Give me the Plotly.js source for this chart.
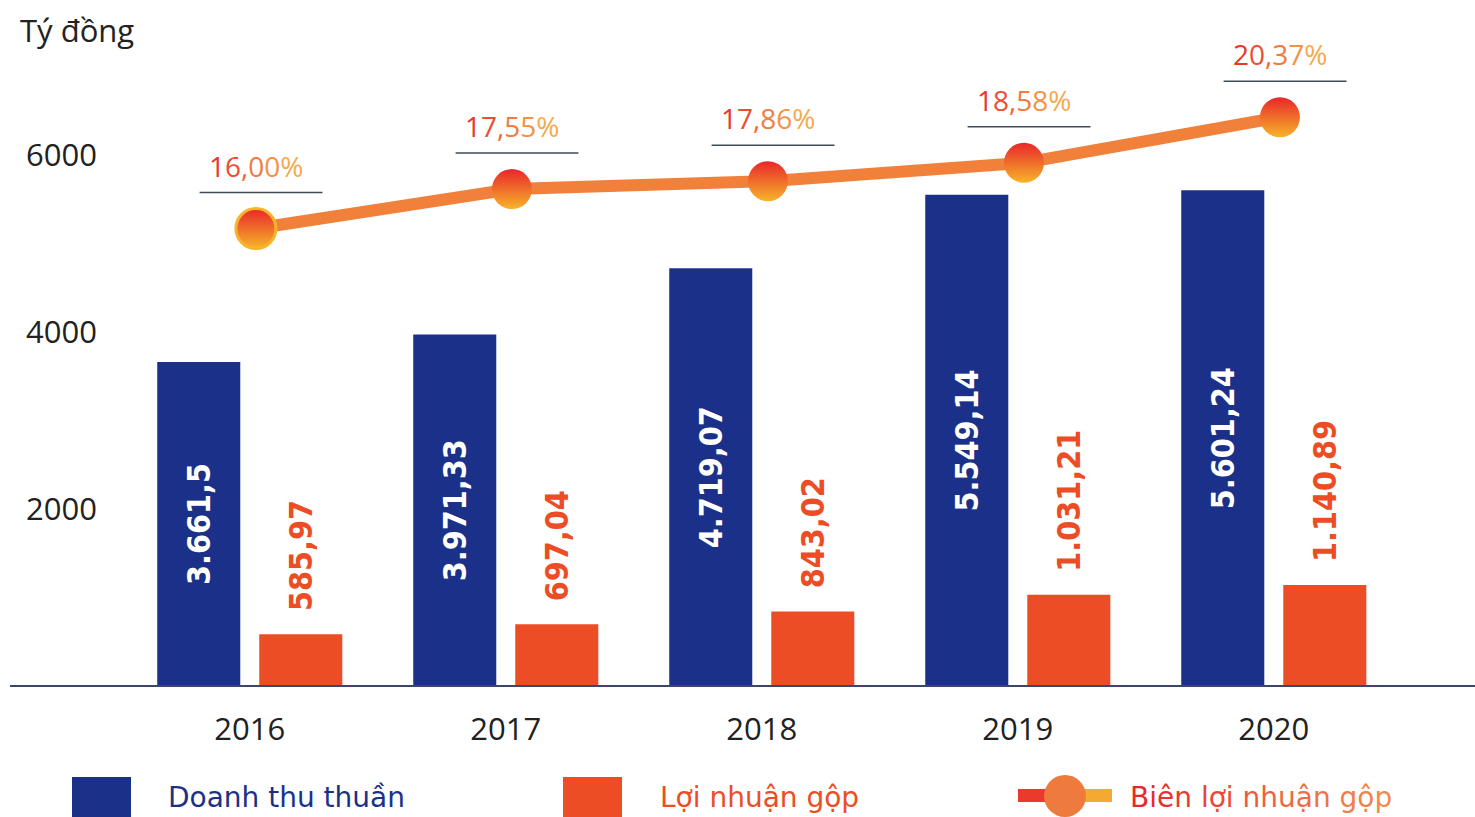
<!DOCTYPE html>
<html>
<head>
<meta charset="utf-8">
<script src="https://cdn.plot.ly/plotly-3.0.1.min.js"></script>
<style>html,body{margin:0;padding:0;background:#fff;}#chart{width:1475px;height:817px;}</style>
</head>
<body>
<div id="chart"></div>
<script>
// ---- data ----
const years = ['2016', '2017', '2018', '2019', '2020'];
const revenue = [3661.5, 3971.33, 4719.07, 5549.14, 5601.24];      // Doanh thu thuần
const grossProfit = [585.97, 697.04, 843.02, 1031.21, 1140.89];   // Lợi nhuận gộp
const grossMargin = [16.00, 17.55, 17.86, 18.58, 20.37];          // Biên lợi nhuận gộp (%)
const yTickVals = [2000, 4000, 6000];
const seriesNames = ['Doanh thu thuần', 'Lợi nhuận gộp', 'Biên lợi nhuận gộp'];
const yUnit = 'Tý đồng';

// ---- helpers ----
function fmtVN(v) {
  const s = String(v);
  const parts = s.split('.');
  const intPart = parts[0].replace(/\B(?=(\d{3})+(?!\d))/g, '.');
  return parts.length > 1 ? intPart + ',' + parts[1] : intPart;
}
function fmtPct(v) { return v.toFixed(2).replace('.', ',') + '%'; }
function hex2rgb(h) { return [1, 3, 5].map(i => parseInt(h.substr(i, 2), 16)); }
function gradText(str, c1, c2) {
  const a = hex2rgb(c1), b = hex2rgb(c2);
  const chars = Array.from(str);
  const n = Math.max(chars.length - 1, 1);
  return chars.map((ch, i) => {
    const t = i / n;
    const c = a.map((v, k) => Math.round(v + (b[k] - v) * t));
    return '<span style="color:rgb(' + c.join(',') + ')">' + ch + '</span>';
  }).join('');
}
// pixel -> paper helpers (plot area: x 100..1475, y 20..686)
const L = 100, W = 1375, B = 686, H = 666;
const PX = x => (x - L) / W;
const PY = y => (B - y) / H;

const BLUE = '#1b3189';
const ORANGE = '#ec4d24';
const GAP = '\u00a0\u00a0';

const traces = [
  {
    type: 'bar', name: seriesNames[0], x: years, y: revenue,
    marker: {color: BLUE},
    text: revenue.map(fmtVN), textposition: 'inside', insidetextanchor: 'middle',
    textangle: -90, constraintext: 'none',
    insidetextfont: {family: 'DejaVu Sans Condensed, DejaVu Sans', size: 32, color: '#ffffff', weight: 'bold'},
    hoverinfo: 'x+y', showlegend: false
  },
  {
    type: 'bar', name: seriesNames[1], x: years, y: grossProfit,
    marker: {color: ORANGE},
    text: grossProfit.map(v => GAP + fmtVN(v)), textposition: 'outside',
    textangle: -90, constraintext: 'none', cliponaxis: false,
    outsidetextfont: {family: 'DejaVu Sans Condensed, DejaVu Sans', size: 32, color: ORANGE, weight: 'bold'},
    hoverinfo: 'x+y', showlegend: false
  },
  {
    type: 'scatter', mode: 'lines+markers', name: seriesNames[2],
    x: years, y: grossMargin, xaxis: 'x2', yaxis: 'y2', cliponaxis: false,
    line: {color: '#f0803a', width: 12},
    marker: {size: 40, color: '#e8262b',
      gradient: {type: 'vertical', color: '#f7b42a'},
      line: {color: '#f7b42a', width: [3, 0, 0, 0, 0]}},
    showlegend: false
  }
];

const shapes = [];
const annotations = [];

// baseline
shapes.push({type: 'line', xref: 'paper', yref: 'paper', x0: PX(10), x1: PX(1475), y0: 0, y1: 0,
  line: {color: '#3b4767', width: 2}, layer: 'above'});

// percent labels with underline
grossMargin.forEach((v, i) => {
  shapes.push({type: 'line', xref: 'x2', yref: 'y2', ysizemode: 'pixel', yanchor: v,
    x0: i - 0.22, x1: i + 0.26, y0: 36, y1: 36, line: {color: '#3f4b57', width: 1.5}});
  annotations.push({xref: 'x2', yref: 'y2', x: i, y: v, yshift: 63, showarrow: false,
    text: gradText(fmtPct(v), '#e9382b', '#f5a84c'),
    font: {family: 'Open Sans', size: 28}});
});

// legend (manual)
shapes.push({type: 'rect', xref: 'paper', yref: 'paper', x0: PX(72), x1: PX(131), y0: PY(777), y1: PY(817),
  fillcolor: BLUE, line: {width: 0}});
shapes.push({type: 'rect', xref: 'paper', yref: 'paper', x0: PX(563), x1: PX(622), y0: PY(777), y1: PY(817),
  fillcolor: ORANGE, line: {width: 0}});
shapes.push({type: 'rect', xref: 'paper', yref: 'paper', x0: PX(1018), x1: PX(1060), y0: PY(789), y1: PY(802),
  fillcolor: '#ea3a2b', line: {width: 0}});
shapes.push({type: 'rect', xref: 'paper', yref: 'paper', x0: PX(1070), x1: PX(1112), y0: PY(789), y1: PY(802),
  fillcolor: '#f4aa30', line: {width: 0}});
shapes.push({type: 'circle', xref: 'paper', yref: 'paper', x0: PX(1044), x1: PX(1086), y0: PY(775), y1: PY(817),
  fillcolor: '#ef7a3e', line: {width: 0}});

annotations.push({xref: 'paper', yref: 'paper', x: PX(166), y: PY(797), xanchor: 'left', yanchor: 'middle',
  showarrow: false, text: seriesNames[0], font: {family: 'DejaVu Sans', size: 28, color: BLUE}});
annotations.push({xref: 'paper', yref: 'paper', x: PX(658), y: PY(797), xanchor: 'left', yanchor: 'middle',
  showarrow: false, text: seriesNames[1], font: {family: 'DejaVu Sans', size: 28, color: ORANGE}});
annotations.push({xref: 'paper', yref: 'paper', x: PX(1128), y: PY(797), xanchor: 'left', yanchor: 'middle',
  showarrow: false, text: gradText(seriesNames[2], '#e8262b', '#f08a50'), font: {family: 'DejaVu Sans', size: 28}});

const layout = {
  width: 1475, height: 817,
  margin: {l: L, r: 0, t: 20, b: 817 - B},
  paper_bgcolor: '#ffffff', plot_bgcolor: '#ffffff',
  font: {family: 'Open Sans', color: '#222222'},
  title: {text: yUnit, xref: 'container', yref: 'container', x: 20 / 1475, xanchor: 'left',
    y: 1 - 31 / 817, yanchor: 'middle', font: {family: 'Open Sans', size: 31, color: '#222222'}},
  barmode: 'group', bargap: 0.203, bargroupgap: 0.186,
  xaxis: {type: 'category', range: [-0.585, 4.786], showgrid: false, zeroline: false, showline: false,
    ticks: '', ticklabelstandoff: 22, tickfont: {family: 'Open Sans', size: 31, color: '#222222'}, fixedrange: true},
  xaxis2: {type: 'category', overlaying: 'x', range: [-0.609, 4.762], visible: false, fixedrange: true},
  yaxis: {range: [0, 7525], tickvals: yTickVals, ticktext: yTickVals.map(String), showgrid: false,
    zeroline: false, showline: false, ticks: '', ticklabelstandoff: 2,
    tickfont: {family: 'Open Sans', size: 31, color: '#222222'}, fixedrange: true},
  yaxis2: {overlaying: 'y', range: [-1.97, 24.19], visible: false, fixedrange: true},
  shapes: shapes,
  annotations: annotations,
  showlegend: false
};

Plotly.newPlot('chart', traces, layout, {displayModeBar: false, staticPlot: true});
</script>
</body>
</html>
